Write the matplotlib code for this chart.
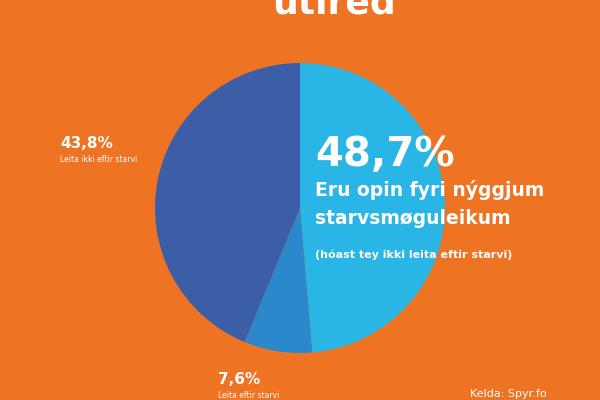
import matplotlib
matplotlib.use("Agg")
import matplotlib.pyplot as plt

labels = ["Eru opin fyri nýggjum starvsmøguleikum", "Leita eftir starvi", "Leita ikki eftir starvi"]
values = [48.7, 7.6, 43.8]
colors = ["#29B5E6", "#2B88CC", "#3B5EA6"]
bg = "#EE7322"

fig = plt.figure(figsize=(6, 4), dpi=100, facecolor=bg)
ax = fig.add_axes([155/600, 1-353/400, 290/600, 290/400])
ax.pie(values, colors=colors, startangle=90, counterclock=False,
       wedgeprops=dict(linewidth=0))
ax.set_xlim(-1, 1)
ax.set_ylim(-1, 1)
ax.set_aspect("equal")
ax.axis("off")

fig.text(315/600, 1-155/400, "48,7%", color="white", fontsize=29, fontweight="bold", va="center")
fig.text(315/600, 1-190/400, "Eru opin fyri nýggjum", color="white", fontsize=13.5, fontweight="bold", va="center")
fig.text(315/600, 1-218/400, "starvsmøguleikum", color="white", fontsize=13.5, fontweight="bold", va="center")
fig.text(315/600, 1-255/400, "(hóast tey ikki leita eftir starvi)", color="white", fontsize=8, fontweight="bold", va="center")

fig.text(60/600, 1-143/400, "43,8%", color="white", fontsize=11, fontweight="bold", va="center")
fig.text(60/600, 1-159/400, "Leita ikki eftir starvi", color="white", fontsize=5.5, va="center")
fig.text(218/600, 1-380/400, "7,6%", color="white", fontsize=11, fontweight="bold", va="center")
fig.text(218/600, 1-396/400, "Leita eftir starvi", color="white", fontsize=5.5, va="center")
fig.text(470/600, 1-394/400, "Kelda: Spyr.fo", color="white", fontsize=8, va="center")

fig.text(272/600, 1-4/400, "utired", color="white", fontsize=26, fontweight="bold", va="center")

fig.savefig("out.png", facecolor=bg)
